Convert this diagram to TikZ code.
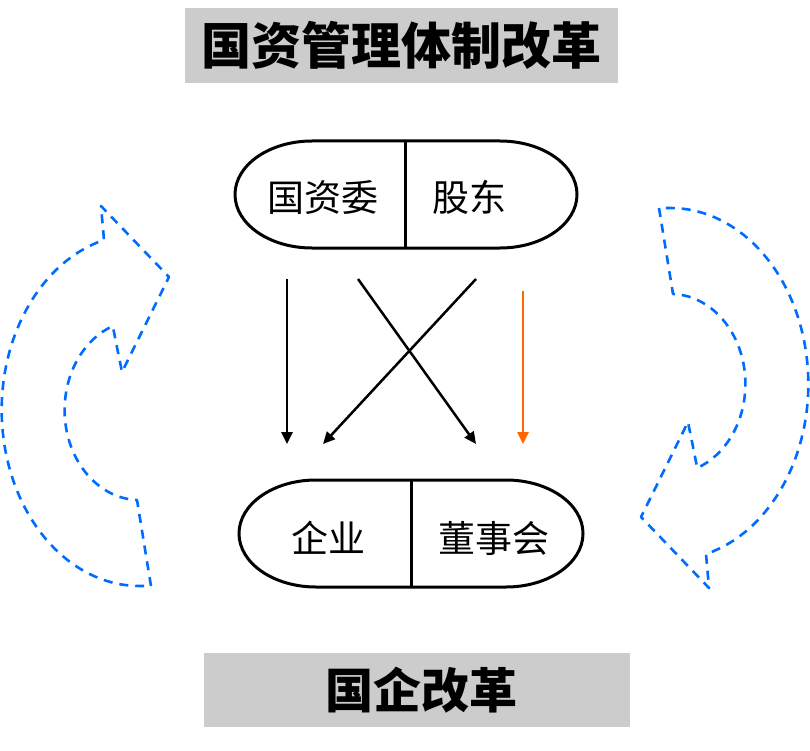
\documentclass[tikz,border=0pt]{standalone}
\usepackage{fontspec}
\newfontfamily\cjk{Noto Sans CJK SC}
\usepackage{tikz}
\usetikzlibrary{arrows.meta}
\definecolor{flowblue}{RGB}{0,108,255}
\definecolor{orng}{RGB}{255,102,0}
\definecolor{band}{RGB}{204,204,204}

\begin{document}
\begin{tikzpicture}[x=1pt, y=-1pt,
        title/.style={fill=band, inner sep=0pt, font=\cjk\bfseries\fontsize{50}{60}\selectfont},
        word/.style={inner sep=0pt, font=\cjk\fontsize{37}{44}\selectfont},
        pill/.style={line width=3pt},
        link/.style={line width=2.5pt, -{Triangle[length=12pt,width=11pt]}},
        flow/.style={flowblue, line width=2.6pt, dash pattern=on 9pt off 7pt, line join=round}]
        \useasboundingbox (0,0) rectangle (810,751);
        \node[title, minimum width=433pt, minimum height=75pt] (top) at (401.5,45.5) {国资管理体制改革};
        \node[title, minimum width=426pt, minimum height=74pt] (bottom) at (417,690) {};
        \node[title, fill=none, font=\cjk\bfseries\fontsize{48}{58}\selectfont] (bottomtext) at (421,690) {国企改革};

        % capsules
        \draw[pill] (312,141) -- (500,141) arc[start angle=-90, end angle=90, x radius=77, y radius=53.5]
          -- (312,248) arc[start angle=90, end angle=270, x radius=77, y radius=53.5] -- cycle;
        \draw[pill] (405,141) -- (405,248);
        \draw[pill] (316,480) -- (506,480) arc[start angle=-90, end angle=90, x radius=77, y radius=53.5]
          -- (316,587) arc[start angle=90, end angle=270, x radius=77, y radius=53.5] -- cycle;
        \draw[pill] (411,480) -- (411,587);
        \node[word] (sasac) at (323,197) {国资委};
        \node[word] (holder) at (469,197) {股东};
        \node[word] (firm) at (328,538) {企业};
        \node[word] (board) at (494,538) {董事会};

        \coordinate (s1) at (287,279);
        \coordinate (s2) at (358,279);
        \coordinate (s3) at (476,279);
        \coordinate (s4) at (523,291);
        \coordinate (e1) at (287,444);
        \coordinate (e2) at (476,444);
        \coordinate (e3) at (323,444);
        \coordinate (e4) at (523,444);
        \draw[link] (s1) -- (e1);
        \draw[link] (s2) -- (e2);
        \draw[link] (s3) -- (e3);
        \draw[link, orng] (s4) -- (e4);

        % curved arrows
        \foreach \turn in {0,180}
          \draw[flow, rotate around={\turn:(405,397)}] (151,586) -- (137,500)
            arc[start angle=92, end angle=249, x radius=75, y radius=90]
            -- (122,372) -- (169,277) -- (101,206) -- (104,240)
            arc[start angle=255, end angle=90, x radius=138, y radius=176] -- cycle;
    \end{tikzpicture}
\end{document}
